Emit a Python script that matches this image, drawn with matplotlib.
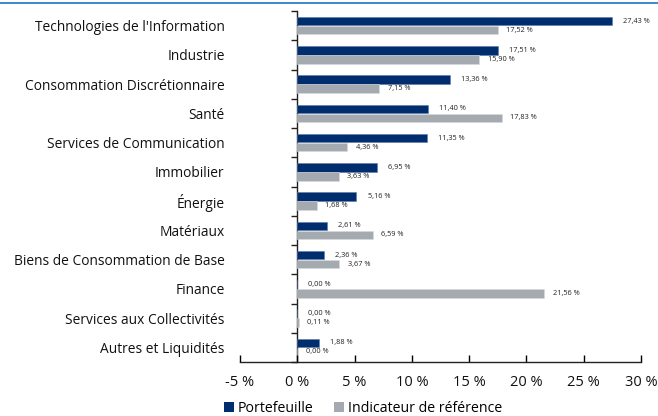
import matplotlib
matplotlib.use("Agg")
import matplotlib.pyplot as plt
import numpy as np
from matplotlib.lines import Line2D
from matplotlib.patches import Patch

plt.rcParams['font.family'] = ['Open Sans', 'DejaVu Sans']

categories = ["Technologies de l'Information", "Industrie", "Consommation Discrétionnaire",
              "Santé", "Services de Communication", "Immobilier", "Énergie", "Matériaux",
              "Biens de Consommation de Base", "Finance", "Services aux Collectivités",
              "Autres et Liquidités"]
portefeuille = [27.43, 17.51, 13.36, 11.40, 11.35, 6.95, 5.16, 2.61, 2.36, 0.00, 0.00, 1.88]
indicateur = [17.52, 15.90, 7.15, 17.83, 4.36, 3.63, 1.68, 6.59, 3.67, 21.56, 0.11, 0.00]
series_names = ["Portefeuille", "Indicateur de référence"]
xticks = [-5, 0, 5, 10, 15, 20, 25, 30]

c_port = '#002D6E'
c_ind = '#A4AAAF'

fig = plt.figure(figsize=(6.58, 4.16), dpi=100)
W, H = 658, 416
ax = fig.add_axes([240 / W, 1 - 362 / H, (641 - 240) / W, (362 - 11) / H])

y = np.arange(len(categories))
h = 0.29
off = 0.155
ax.barh(y - off, portefeuille, height=h, color=c_port, edgecolor='#5a7aa8', linewidth=0.4)
ax.barh(y + off, indicateur, height=h, color=c_ind, edgecolor='#d8dbde', linewidth=0.4)

def fmt(v):
    return f"{v:.2f}".replace('.', ',') + " %"

for yi, v in zip(y, portefeuille):
    ax.annotate(fmt(v), (v, yi - off), xytext=(8, 0), textcoords='offset points',
                va='center', ha='left', fontsize=5.3, color='#222222')
for yi, v in zip(y, indicateur):
    ax.annotate(fmt(v), (v, yi + off), xytext=(6, 0), textcoords='offset points',
                va='center', ha='left', fontsize=5.3, color='#222222')

ax.set_ylim(len(categories) - 0.5, -0.5)
ax.set_xlim(-5, 30)
ax.set_yticks(y)
ax.set_yticklabels(categories, fontsize=9.9, color='#111111')
ax.tick_params(axis='y', length=0, pad=11)
ax.set_xticks(xticks)
ax.set_xticklabels([f"{t} %" for t in xticks], fontsize=10.5, color='#111111')
ax.tick_params(axis='x', direction='in', length=5, width=1, pad=9)

for s in ['top', 'right', 'left']:
    ax.spines[s].set_visible(False)
ax.spines['bottom'].set_linewidth(1)
ax.spines['bottom'].set_color('#222222')

# vertical axis line at 0 with category-boundary ticks
sec = ax.secondary_yaxis(5 / 35)
sec.set_yticks(np.arange(-0.5, len(categories) + 0.5, 1))
sec.set_yticklabels([])
sec.tick_params(length=4, width=1, colors='#222222')
sec.spines['left'].set_linewidth(1)
sec.spines['left'].set_color('#222222')

handles = [Patch(facecolor=c_port, edgecolor='none'), Patch(facecolor=c_ind, edgecolor='none')]
fig.legend(handles, series_names, loc='center', bbox_to_anchor=(363 / W, 1 - 408 / H), ncol=2,
           frameon=False, fontsize=10.2, handlelength=0.7, handleheight=0.7, handletextpad=0.3,
           columnspacing=1.4, borderpad=0)

fig.add_artist(Line2D([0, 1], [1 - 3 / H, 1 - 3 / H], transform=fig.transFigure,
                      color='#1a73c8', linewidth=1.2))

fig.savefig('out.png', dpi=100)
